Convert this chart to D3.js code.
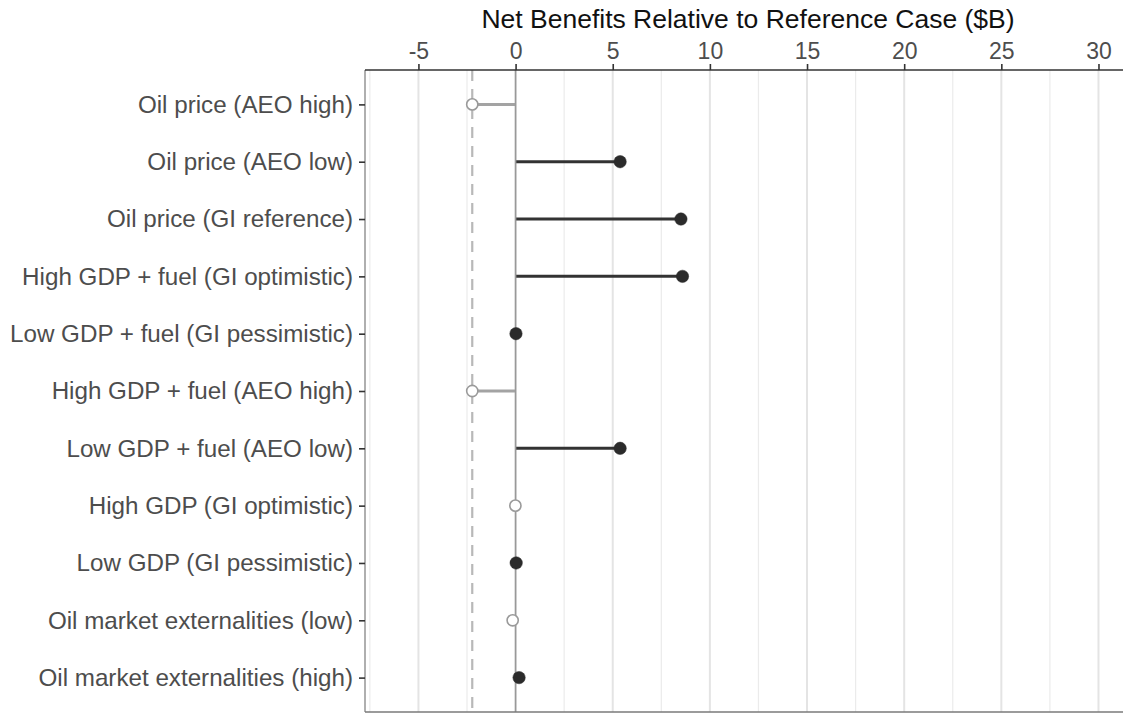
<!DOCTYPE html>
<html><head><meta charset="utf-8">
<script src="https://cdn.jsdelivr.net/npm/d3@7"></script>
<style>body{margin:0;background:#fff;} svg{display:block;font-family:"Liberation Sans",Arial,sans-serif;}</style>
</head><body>
<svg id="chart" width="1123" height="715"></svg>
<script>
const categories = [
  "Oil price (AEO high)",
  "Oil price (AEO low)",
  "Oil price (GI reference)",
  "High GDP + fuel (GI optimistic)",
  "Low GDP + fuel (GI pessimistic)",
  "High GDP + fuel (AEO high)",
  "Low GDP + fuel (AEO low)",
  "High GDP (GI optimistic)",
  "Low GDP (GI pessimistic)",
  "Oil market externalities (low)",
  "Oil market externalities (high)"
];
const netBenefits = [-2.23, 5.38, 8.51, 8.59, 0.02, -2.23, 5.38, -0.01, 0.03, -0.15, 0.18];
const dashedRef = -2.23;
const xTicks = [-5, 0, 5, 10, 15, 20, 25, 30];
const xTickLabels = ["-5", "0", "5", "10", "15", "20", "25", "30"];
const xMinorTicks = [-7.5, -2.5, 2.5, 7.5, 12.5, 17.5, 22.5, 27.5];
const xTitle = "Net Benefits Relative to Reference Case ($B)";

const svg = d3.select("#chart");
const L = 365, T = 70, B = 712;
const x = d3.scaleLinear().domain([-7.75, 31.5]).range([L, L + 39.25 * 19.43]);
const y = d3.scalePoint().domain(categories).range([T, B]).padding(0.6);
const R = 1130;

// grid
svg.append("g").selectAll("line").data(xMinorTicks).join("line")
  .attr("x1", d => x(d)).attr("x2", d => x(d)).attr("y1", T).attr("y2", B)
  .attr("stroke", "#ebebeb").attr("stroke-width", 1.2);
svg.append("g").selectAll("line").data(xTicks).join("line")
  .attr("x1", d => x(d)).attr("x2", d => x(d)).attr("y1", T).attr("y2", B)
  .attr("stroke", "#e4e4e4").attr("stroke-width", 2);

// dashed reference
svg.append("line").attr("x1", x(dashedRef)).attr("x2", x(dashedRef)).attr("y1", T).attr("y2", B)
  .attr("stroke", "#b8b8b8").attr("stroke-width", 2.2).attr("stroke-dasharray", "11,8");

// segments
svg.append("g").selectAll("line").data(categories).join("line")
  .attr("x1", x(0)).attr("x2", (d, i) => x(netBenefits[i]))
  .attr("y1", d => y(d)).attr("y2", d => y(d))
  .attr("stroke", (d, i) => netBenefits[i] < 0 ? "#a3a3a3" : "#333333")
  .attr("stroke-width", 3);

// zero line
svg.append("line").attr("x1", x(0)).attr("x2", x(0)).attr("y1", T).attr("y2", B)
  .attr("stroke", "#999999").attr("stroke-width", 1.6);

// points
svg.append("g").selectAll("circle").data(categories).join("circle")
  .attr("cx", (d, i) => x(netBenefits[i])).attr("cy", d => y(d)).attr("r", (d, i) => netBenefits[i] < 0 ? 5.6 : 6.2)
  .attr("fill", (d, i) => netBenefits[i] < 0 ? "#ffffff" : "#2b2b2b")
  .attr("stroke", (d, i) => netBenefits[i] < 0 ? "#9a9a9a" : "#2b2b2b")
  .attr("stroke-width", (d, i) => netBenefits[i] < 0 ? 1.6 : 0.5);

// panel border
svg.append("line").attr("x1", L).attr("x2", L).attr("y1", T).attr("y2", B).attr("stroke", "#7a7a7a").attr("stroke-width", 1.2);
svg.append("line").attr("x1", L).attr("x2", R).attr("y1", B).attr("y2", B).attr("stroke", "#7a7a7a").attr("stroke-width", 1.4);

// top axis
const xAxis = svg.append("g").attr("transform", `translate(0,${T})`)
  .call(d3.axisTop(x).tickValues(xTicks).tickSize(6).tickPadding(5).tickFormat((d, i) => xTickLabels[i]));
xAxis.select(".domain").remove();
xAxis.selectAll(".tick line").attr("stroke", "#333").attr("stroke-width", 1.6);
xAxis.selectAll(".tick text").attr("fill", "#4d4d4d").style("font-size", "23px").style("font-family", "Liberation Sans, Arial, sans-serif");
svg.append("line").attr("x1", L).attr("x2", R).attr("y1", T).attr("y2", T).attr("stroke", "#333").attr("stroke-width", 1.6);

// left axis
const yAxis = svg.append("g").attr("transform", `translate(${L},0)`)
  .call(d3.axisLeft(y).tickSize(6).tickPadding(6));
yAxis.select(".domain").remove();
yAxis.selectAll(".tick line").attr("stroke", "#333").attr("stroke-width", 1.6);
yAxis.selectAll(".tick text").attr("fill", "#4d4d4d").style("font-size", "24.2px").style("font-family", "Liberation Sans, Arial, sans-serif");

// title
svg.append("text").attr("x", 748).attr("y", 28).attr("text-anchor", "middle")
  .attr("fill", "#111").style("font-size", "26.5px").text(xTitle);
</script>
</body></html>
